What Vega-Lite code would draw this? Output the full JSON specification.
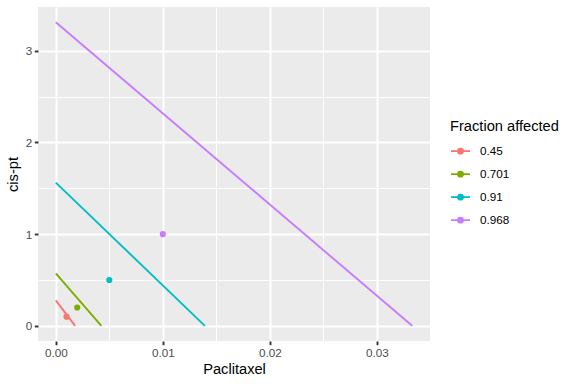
{
  "$schema": "https://vega.github.io/schema/vega-lite/v6.json",
  "width": 392,
  "height": 334,
  "autosize": {"type": "none"},
  "padding": {"left": 38, "top": 7, "right": 146, "bottom": 43},
  "background": "white",
  "config": {
    "font": "Liberation Sans",
    "view": {"fill": "#EBEBEB", "stroke": null},
    "axis": {
      "domain": false,
      "gridColor": "white",
      "tickColor": "#333333",
      "tickWidth": 1.9,
      "tickSize": 3.7,
      "labelColor": "#4D4D4D",
      "labelFontSize": 11.7,
      "labelFont": "Liberation Sans",
      "labelPadding": 2.5,
      "titleFont": "Liberation Sans",
      "titleFontSize": 14.67,
      "titleFontWeight": "normal",
      "titleColor": "black"
    }
  },
  "datasets": {
    "lines": [
      {"fa": "0.45", "paclitaxel": 0, "cispt": 0.278},
      {"fa": "0.45", "paclitaxel": 0.00181, "cispt": 0},
      {"fa": "0.701", "paclitaxel": 0, "cispt": 0.572},
      {"fa": "0.701", "paclitaxel": 0.00426, "cispt": 0},
      {"fa": "0.91", "paclitaxel": 0, "cispt": 1.562},
      {"fa": "0.91", "paclitaxel": 0.01393, "cispt": 0},
      {"fa": "0.968", "paclitaxel": 0, "cispt": 3.312},
      {"fa": "0.968", "paclitaxel": 0.0333, "cispt": 0}
    ],
    "points": [
      {"fa": "0.45", "paclitaxel": 0.001, "cispt": 0.1},
      {"fa": "0.701", "paclitaxel": 0.002, "cispt": 0.2},
      {"fa": "0.91", "paclitaxel": 0.005, "cispt": 0.5},
      {"fa": "0.968", "paclitaxel": 0.01, "cispt": 1.0}
    ]
  },
  "encoding": {
    "x": {
      "field": "paclitaxel",
      "type": "quantitative",
      "title": "Paclitaxel",
      "scale": {"domain": [-0.001665, 0.034965], "nice": false, "zero": false},
      "axis": {
        "values": [0, 0.005, 0.01, 0.015, 0.02, 0.025, 0.03],
        "format": ".2f",
        "labelExpr": "abs(datum.value*100 - round(datum.value*100)) > 0.1 ? '' : datum.label",
        "gridWidth": {"condition": {"test": "abs(datum.value*100 - round(datum.value*100)) > 0.1", "value": 0.95}, "value": 1.9},
        "tickOpacity": {"condition": {"test": "abs(datum.value*100 - round(datum.value*100)) > 0.1", "value": 0}, "value": 1},
        "titlePadding": 3
      }
    },
    "y": {
      "field": "cispt",
      "type": "quantitative",
      "title": "cis-pt",
      "scale": {"domain": [-0.1656, 3.4776], "nice": false, "zero": false},
      "axis": {
        "values": [0, 0.5, 1, 1.5, 2, 2.5, 3],
        "format": ".0f",
        "labelExpr": "datum.value % 1 != 0 ? '' : datum.label",
        "gridWidth": {"condition": {"test": "datum.value % 1 != 0", "value": 0.95}, "value": 1.9},
        "tickOpacity": {"condition": {"test": "datum.value % 1 != 0", "value": 0}, "value": 1},
        "titlePadding": 5
      }
    },
    "color": {
      "field": "fa",
      "type": "nominal",
      "title": "Fraction affected",
      "scale": {
        "domain": ["0.45", "0.701", "0.91", "0.968"],
        "range": ["#F8766D", "#7CAE00", "#00BFC4", "#C77CFF"]
      },
      "legend": {
        "orient": "none",
        "legendX": 412,
        "legendY": 112,
        "titleFontSize": 14.67,
        "titleFontWeight": "normal",
        "titleColor": "black",
        "titleFont": "Liberation Sans",
        "titlePadding": 7,
        "labelFontSize": 11.7,
        "labelColor": "black",
        "labelFont": "Liberation Sans",
        "labelOffset": 9,
        "symbolType": "M-1,0L1,0M-0.26,0A0.26,0.26,0,1,1,0.26,0A0.26,0.26,0,1,1,-0.26,0Z",
        "symbolSize": 361,
        "symbolStrokeWidth": 1.9,
        "rowPadding": 5,
        "encode": {
          "symbols": {
            "update": {
              "fill": {"scale": "color", "field": "value"},
              "stroke": {"scale": "color", "field": "value"},
              "opacity": {"value": 1}
            }
          }
        }
      }
    }
  },
  "layer": [
    {
      "data": {"name": "lines"},
      "mark": {"type": "line", "strokeWidth": 1.9, "clip": true}
    },
    {
      "data": {"name": "points"},
      "mark": {"type": "point", "filled": true, "size": 38, "opacity": 1}
    }
  ]
}
